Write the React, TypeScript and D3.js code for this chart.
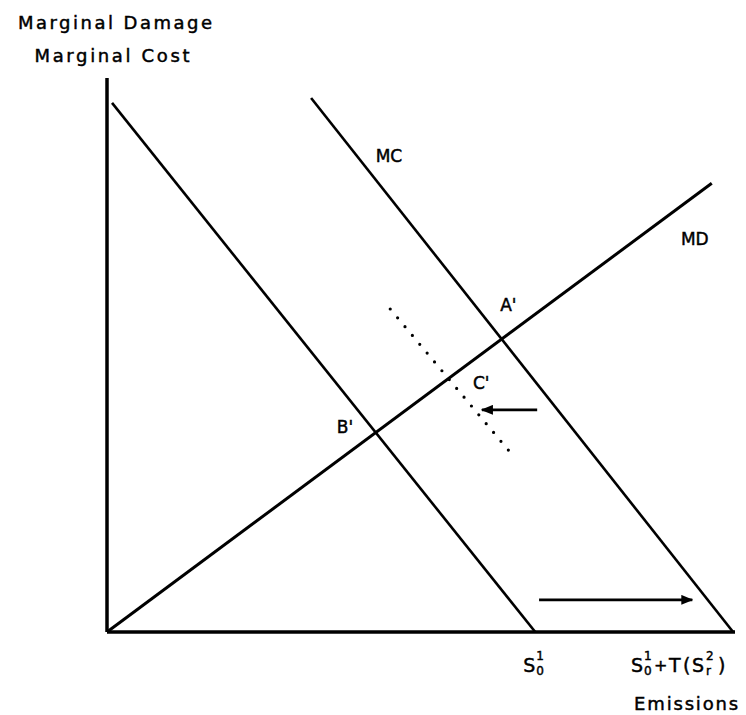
import React from "react";
import * as d3 from "d3";

// curves, in emission / cost units (0-100 on both axes)
const mcBase: [number, number][] = [[0.8, 95.5], [68.2, 0]];
const mcShifted: [number, number][] = [[32.5, 96.4], [99.7, 0]];
const mdCurve: [number, number][] = [[0, 0], [96.3, 81.0]];
const mcPartial: [number, number][] = [[45.1, 58.3], [64.3, 32.3]];
const shiftLeft: [number, number][] = [[68.5, 40.1], [59.7, 40.1]];
const shiftRight: [number, number][] = [[68.8, 5.8], [93.2, 5.8]];

const curveNames = ["MC", "MD", "A'", "B'", "C'"];
const curveNameAt: [number, number][] = [[44.9, 85.9], [93.6, 70.9], [63.9, 59.0], [37.9, 37.0], [59.6, 44.9]];

const yTitle = ["Marginal Damage", "Marginal Cost"];
const xTitle = "Emissions";

const W = 746;
const H = 715;
const FONT = "'DejaVu Sans', 'Liberation Sans', sans-serif";

export default function App() {
  const margin = { top: 78, right: 11, bottom: 83, left: 107 };
  const width = W - margin.left - margin.right;
  const height = H - margin.top - margin.bottom;

  const x = d3.scaleLinear().domain([0, 100]).range([0, width]);
  const y = d3.scaleLinear().domain([0, 100]).range([height, 0]);
  const line = d3
    .line<[number, number]>()
    .x((d) => x(d[0]))
    .y((d) => y(d[1]));

  // the two intercepts on the emissions axis
  const s0 = x(mcBase[1][0]);
  const s1 = x(mcShifted[1][0]);
  const base = height;

  // slightly heavier text, like the scanned lettering
  const ink = { fill: "#000", stroke: "#000", strokeWidth: 0.45 };

  return (
    <svg
      width={W}
      height={H}
      style={{ position: "absolute", left: 0, top: 0, background: "#fff" }}
      fontFamily={FONT}
    >
      <defs>
        <marker
          id="head"
          markerUnits="userSpaceOnUse"
          markerWidth={12}
          markerHeight={10}
          refX={11}
          refY={5}
          orient="auto"
        >
          <path d="M0,0 L12,5 L0,10 z" fill="#000" />
        </marker>
      </defs>

      {/* axis titles */}
      <g {...ink}>
        <text x={115} y={29} textAnchor="middle" fontSize={18} textLength={194} lengthAdjust="spacing">
          {yTitle[0]}
        </text>
        <text x={112} y={62} textAnchor="middle" fontSize={18} textLength={155} lengthAdjust="spacing">
          {yTitle[1]}
        </text>
      </g>

      <g transform={`translate(${margin.left},${margin.top})`}>
        {/* axes */}
        <line x1={0} y1={0} x2={0} y2={height} stroke="#000" strokeWidth={3.5} />
        <line x1={0} y1={height} x2={width} y2={height} stroke="#000" strokeWidth={3.5} />

        <path d={line(mcBase) ?? ""} stroke="#000" strokeWidth={2.6} fill="none" />
        <path d={line(mcShifted) ?? ""} stroke="#000" strokeWidth={2.6} fill="none" />
        <path d={line(mdCurve) ?? ""} stroke="#000" strokeWidth={3} fill="none" />
        <path
          d={line(mcPartial) ?? ""}
          stroke="#000"
          strokeWidth={3.2}
          strokeDasharray="0 11.5"
          strokeLinecap="round"
          fill="none"
        />
        <path d={line(shiftLeft) ?? ""} stroke="#000" strokeWidth={2.6} fill="none" markerEnd="url(#head)" />
        <path d={line(shiftRight) ?? ""} stroke="#000" strokeWidth={2.6} fill="none" markerEnd="url(#head)" />

        <g {...ink}>
          {curveNames.map((t, i) => (
            <text
              key={t}
              x={x(curveNameAt[i][0])}
              y={y(curveNameAt[i][1])}
              dy="0.36em"
              textAnchor="middle"
              fontSize={17}
            >
              {t}
            </text>
          ))}
        </g>

        {/* S_0^1 */}
        <g fontSize={19} {...ink}>
          <text x={s0 - 12} y={base + 40}>S</text>
          <text x={s0 + 1} y={base + 28} fontSize={12}>1</text>
          <text x={s0 + 1} y={base + 43} fontSize={12}>0</text>
        </g>

        {/* S_0^1 + T(S_r^2) */}
        <g fontSize={19} {...ink}>
          <text x={s1 - 102} y={base + 40}>S</text>
          <text x={s1 - 89} y={base + 28} fontSize={12}>1</text>
          <text x={s1 - 89} y={base + 43} fontSize={12}>0</text>
          <text x={s1 - 79} y={base + 39} fontSize={16}>+</text>
          <text x={s1 - 64} y={base + 40}>T</text>
          <text x={s1 - 50} y={base + 40}>(</text>
          <text x={s1 - 41} y={base + 40}>S</text>
          <text x={s1 - 27} y={base + 28} fontSize={12}>2</text>
          <text x={s1 - 27} y={base + 43} fontSize={12}>r</text>
          <text x={s1 - 15} y={base + 40}>)</text>
        </g>

        <text
          x={s1 - 47}
          y={base + 78}
          textAnchor="middle"
          fontSize={18}
          textLength={104}
          lengthAdjust="spacing"
          {...ink}
        >
          {xTitle}
        </text>
      </g>
    </svg>
  );
}
